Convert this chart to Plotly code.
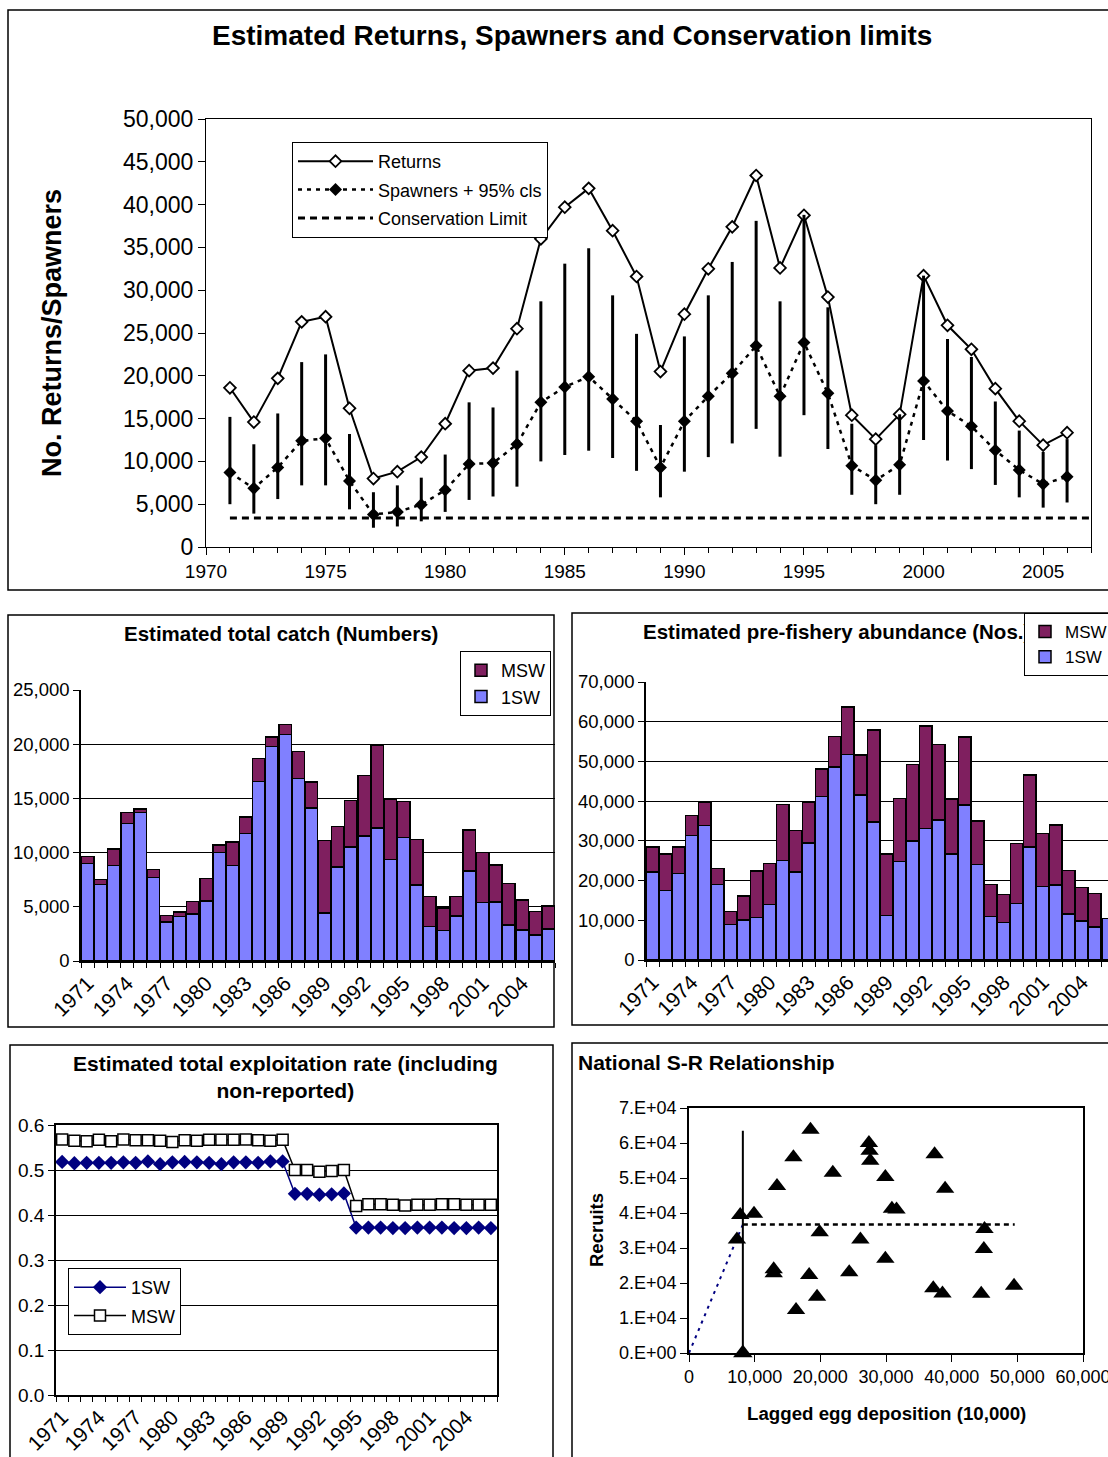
import plotly.graph_objects as go

W, H = 1108, 1457
def fx(px): return px / W
def fy(py): return 1 - py / H

FONT = "Liberation Sans, Arial, sans-serif"

# ---------------- data ----------------
years = list(range(1971, 2007))

returns = [18600, 14600, 19700, 26300, 26900, 16200, 8000, 8800, 10500, 14400, 20600, 20900,
           25500, 36000, 39700, 41900, 36950, 31600, 20500, 27200, 32500, 37400, 43400, 32600,
           38750, 29200, 15400, 12600, 15500, 31700, 25900, 23100, 18500, 14700, 11900, 13350]
spawners = [8700, 6850, 9300, 12400, 12700, 7700, 3800, 4100, 4950, 6650, 9700, 9800,
            12000, 16900, 18700, 19900, 17300, 14700, 9300, 14700, 17600, 20300, 23500, 17600,
            23900, 17950, 9500, 7800, 9600, 19400, 15900, 14100, 11300, 9000, 7350, 8200]
spawners_upper = [15200, 12000, 15600, 21600, 22500, 13200, 6400, 7200, 8100, 10800, 16900, 16300,
                  20600, 28700, 33100, 34900, 29400, 24900, 14250, 24600, 29400, 33300, 38100, 28700,
                  38800, 28000, 14400, 11900, 15500, 31700, 24300, 22200, 17000, 13600, 11100, 12600]
spawners_lower = [5000, 3900, 5600, 7200, 7200, 4400, 2250, 2400, 3000, 4100, 5500, 5900,
                  7050, 10000, 10750, 11250, 10400, 8900, 5800, 8800, 10500, 12100, 13800, 10550,
                  15400, 11450, 6100, 5000, 6100, 12500, 10100, 9100, 7250, 5800, 4600, 5200]
conservation_limit = 3400
cl_year_span = [1971, 2007]

catch_1sw = [9000, 7070, 8800, 12700, 13700, 7720, 3600, 4090, 4340, 5530, 10020, 8800,
             11780, 16570, 19770, 20900, 16820, 14100, 4430, 8670, 10500, 11530, 12270, 9380,
             11400, 7000, 3170, 2800, 4150, 8300, 5400, 5450, 3320, 2860, 2400, 2950]
catch_msw = [620, 460, 1530, 1000, 300, 710, 580, 430, 1130, 2070, 680, 2200,
             1500, 2100, 890, 900, 2520, 2400, 6670, 3730, 4320, 5570, 7630, 5520,
             3300, 4200, 2760, 2100, 1780, 3800, 4600, 3410, 3810, 2770, 2150, 2120]

pfa_1sw = [22200, 17500, 21800, 31400, 33900, 19000, 9000, 10100, 10700, 14000, 25000, 22100,
           29500, 41200, 48600, 51700, 41600, 34800, 11200, 24800, 30000, 33100, 35250, 26700,
           39000, 24000, 11000, 9500, 14200, 28400, 18550, 18900, 11550, 9800, 8300, 10400]
pfa_msw = [6200, 9200, 6600, 4950, 5700, 4000, 3200, 6000, 11650, 10300, 14200, 10500,
           10300, 6900, 7650, 12000, 10000, 23100, 15500, 15850, 19250, 25850, 19050, 13800,
           17200, 11000, 8000, 6950, 15100, 18150, 13250, 15100, 10950, 8500, 8500, 0]

expl_1sw = [0.518, 0.515, 0.516, 0.516, 0.516, 0.517, 0.516, 0.519, 0.513, 0.517, 0.518, 0.517,
            0.516, 0.513, 0.517, 0.517, 0.516, 0.519, 0.519, 0.447, 0.447, 0.445, 0.446, 0.448,
            0.372, 0.372, 0.372, 0.371, 0.371, 0.372, 0.372, 0.372, 0.371, 0.371, 0.372, 0.371]
expl_msw = [0.568, 0.565, 0.564, 0.567, 0.564, 0.568, 0.566, 0.566, 0.565, 0.562, 0.566, 0.565,
            0.567, 0.567, 0.567, 0.568, 0.566, 0.565, 0.567, 0.500, 0.500, 0.496, 0.498, 0.500,
            0.420, 0.424, 0.424, 0.423, 0.421, 0.423, 0.423, 0.424, 0.424, 0.423, 0.423, 0.423]

sr_eggs = [7800, 9900, 7300, 18500, 15900, 13400, 21900, 27400, 27500, 27600, 29900, 30900,
           31600, 37400, 39000, 19900, 26100, 12900, 12900, 18300, 24400, 29900, 19500, 16300,
           37200, 38600, 44500, 49500, 44900, 45000]
sr_recruits = [39400, 39800, 32400, 63800, 55900, 47700, 51500, 60000, 57800, 54900, 50300, 41200,
               41000, 56800, 46900, 34500, 32400, 23900, 22800, 22300, 23100, 26900, 16100, 12300,
               18500, 17000, 16900, 19200, 29700, 35400]
sr_cl_eggs = 8200
sr_cl_line_top = 63500
sr_plateau_recruits = 36700
sr_plateau_end_eggs = 49600
sr_origin = [0, 0]

sr_ytick_vals = [0, 10000, 20000, 30000, 40000, 50000, 60000, 70000]
sr_ytick_text = ["0.E+00", "1.E+04", "2.E+04", "3.E+04", "4.E+04", "5.E+04", "6.E+04", "7.E+04"]

label_years = years[::3]
boundaries = [y - 0.5 for y in years] + [years[-1] + 0.5]

C1SW = "#8080FF"
CMSW = "#7F1F5F"

fig = go.Figure()

# ---------------- panel 1: returns / spawners ----------------
fig.add_trace(go.Scatter(x=years, y=returns, mode="lines+markers", name="Returns",
                         line=dict(color="black", width=2),
                         marker=dict(symbol="diamond", size=9, color="white",
                                     line=dict(color="black", width=1.8)),
                         xaxis="x", yaxis="y", legend="legend", legendgroup="a"))
fig.add_trace(go.Scatter(x=years, y=spawners, mode="lines+markers", name="Spawners + 95% cls",
                         line=dict(color="black", width=2.5, dash="4px,5px"),
                         marker=dict(symbol="diamond", size=10, color="black"),
                         error_y=dict(type="data", symmetric=False,
                                      array=[u - s for u, s in zip(spawners_upper, spawners)],
                                      arrayminus=[s - l for s, l in zip(spawners, spawners_lower)],
                                      width=0, thickness=3, color="black"),
                         xaxis="x", yaxis="y", legend="legend", legendgroup="b"))
fig.add_trace(go.Scatter(x=cl_year_span, y=[conservation_limit] * len(cl_year_span), mode="lines",
                         name="Conservation Limit",
                         line=dict(color="black", width=3, dash="7px,5px"),
                         xaxis="x", yaxis="y", legend="legend", legendgroup="c"))

# ---------------- panel 2: catch ----------------
fig.add_trace(go.Bar(x=years, y=catch_1sw, name="1SW", marker=dict(color=C1SW, line=dict(color="black", width=1.5)),
                     xaxis="x2", yaxis="y2", legend="legend2"))
fig.add_trace(go.Bar(x=years, y=catch_msw, name="MSW", marker=dict(color=CMSW, line=dict(color="black", width=1.5)),
                     xaxis="x2", yaxis="y2", legend="legend2"))

# ---------------- panel 3: pre-fishery abundance ----------------
fig.add_trace(go.Bar(x=years, y=pfa_1sw, name="1SW", marker=dict(color=C1SW, line=dict(color="black", width=1.5)),
                     xaxis="x3", yaxis="y3", legend="legend3"))
fig.add_trace(go.Bar(x=years, y=pfa_msw, name="MSW", marker=dict(color=CMSW, line=dict(color="black", width=1.5)),
                     xaxis="x3", yaxis="y3", legend="legend3"))

# ---------------- panel 4: exploitation ----------------
fig.add_trace(go.Scatter(x=years, y=expl_1sw, mode="lines+markers", name="1SW",
                         line=dict(color="#000080", width=1.5),
                         marker=dict(symbol="diamond", size=11, color="#000080"),
                         xaxis="x4", yaxis="y4", legend="legend4", legendgroup="e1"))
fig.add_trace(go.Scatter(x=years, y=expl_msw, mode="lines+markers", name="MSW",
                         line=dict(color="black", width=1.5),
                         marker=dict(symbol="square", size=11, color="white", line=dict(color="black", width=1.5)),
                         xaxis="x4", yaxis="y4", legend="legend4", legendgroup="e2"))

# ---------------- panel 5: S-R ----------------
fig.add_trace(go.Scatter(x=[sr_origin[0], sr_cl_eggs], y=[sr_origin[1], sr_plateau_recruits], mode="lines",
                         line=dict(color="#000080", width=2, dash="3px,5px"),
                         xaxis="x5", yaxis="y5", showlegend=False))
fig.add_trace(go.Scatter(x=[sr_cl_eggs, sr_plateau_end_eggs], y=[sr_plateau_recruits, sr_plateau_recruits], mode="lines",
                         line=dict(color="black", width=2.5, dash="5px,4px"),
                         xaxis="x5", yaxis="y5", showlegend=False))
fig.add_trace(go.Scatter(x=[sr_cl_eggs, sr_cl_eggs], y=[0, sr_cl_line_top], mode="lines",
                         line=dict(color="black", width=2),
                         xaxis="x5", yaxis="y5", showlegend=False))
fig.add_trace(go.Scatter(x=[sr_cl_eggs], y=[0], mode="markers",
                         marker=dict(symbol="triangle-up", size=17, color="black"),
                         cliponaxis=False,
                         xaxis="x5", yaxis="y5", showlegend=False))
fig.add_trace(go.Scatter(x=sr_eggs, y=sr_recruits, mode="markers",
                         marker=dict(symbol="triangle-up", size=16, color="black"),
                         xaxis="x5", yaxis="y5", showlegend=False))

tickfont = dict(family=FONT, size=18.5, color="black")
rotfont = dict(family=FONT, size=21, color="black")

def bar_xaxis(domain, rng):
    return dict(domain=domain, range=rng, tickmode="array", tickvals=label_years,
                ticktext=[str(y) for y in label_years], tickangle=-45, ticks="",
                tickfont=rotfont, showline=True, linecolor="black", linewidth=1.5,
                showgrid=False, zeroline=False, ticklabeloverflow="allow",
                minor=dict(tickmode="array", tickvals=boundaries, ticks="outside",
                           ticklen=5, tickcolor="black", tickwidth=1, showgrid=False))

fig.update_layout(
    width=W, height=H, autosize=False,
    margin=dict(l=0, r=0, t=0, b=0, autoexpand=False),
    paper_bgcolor="white", plot_bgcolor="white",
    font=dict(family=FONT, color="black"),
    barmode="stack", bargap=0.04,
    xaxis=dict(domain=[fx(206), fx(1091)], range=[1970, 2007], tickmode="linear", tick0=1970, dtick=5,
               ticks="outside", ticklen=7, tickcolor="black",
               tickfont=dict(family=FONT, size=19, color="black"),
               showline=True, linecolor="black", linewidth=1, mirror=True,
               showgrid=False, zeroline=False, anchor="y",
               minor=dict(dtick=1, ticks="outside", ticklen=5, tickcolor="black", showgrid=False)),
    yaxis=dict(domain=[fy(547), fy(119)], range=[0, 50000], dtick=5000, tickformat=",d",
               ticks="outside", ticklen=7, tickcolor="black",
               tickfont=dict(family=FONT, size=23, color="black"),
               showline=True, linecolor="black", linewidth=1, mirror=True,
               showgrid=False, zeroline=True, zerolinecolor="black", zerolinewidth=2.5, anchor="x"),
    xaxis2=dict(bar_xaxis([fx(81), fx(555)], [1970.5, 2006.5]), anchor="y2"),
    yaxis2=dict(domain=[fy(961), fy(690)], range=[0, 25000], dtick=5000, tickformat=",d",
                ticks="outside", ticklen=6, tickcolor="black", tickfont=tickfont,
                showline=True, linecolor="black", linewidth=1.5,
                showgrid=True, gridcolor="black", gridwidth=1, zeroline=False, anchor="x2"),
    xaxis3=dict(bar_xaxis([fx(646), 1.0], [1970.5, 2006.0]), anchor="y3"),
    yaxis3=dict(domain=[fy(960), fy(682)], range=[0, 70000], dtick=10000, tickformat=",d",
                ticks="outside", ticklen=6, tickcolor="black", tickfont=tickfont,
                showline=True, linecolor="black", linewidth=1.5,
                showgrid=True, gridcolor="black", gridwidth=1, zeroline=False, anchor="x3"),
    xaxis4=dict(bar_xaxis([fx(56), fx(497)], [1970.5, 2006.5]), anchor="y4", mirror=True),
    yaxis4=dict(domain=[fy(1395), fy(1125)], range=[0, 0.6], dtick=0.1, tickformat=".1f",
                ticks="outside", ticklen=6, tickcolor="black", tickfont=dict(family=FONT, size=19, color="black"),
                showline=True, linecolor="black", linewidth=1.5, mirror=True,
                showgrid=True, gridcolor="black", gridwidth=1, zeroline=False, anchor="x4"),
    xaxis5=dict(domain=[fx(689), fx(1083)], range=[0, 60000], dtick=10000, tickformat=",d",
                ticks="outside", ticklen=7, tickcolor="black", tickfont=dict(family=FONT, size=18, color="black"),
                showline=True, linecolor="black", linewidth=1.5, mirror=True, ticklabeloverflow="allow",
                showgrid=False, zeroline=False, anchor="y5"),
    yaxis5=dict(domain=[fy(1353), fy(1108)], range=[0, 70000], tickmode="array",
                tickvals=sr_ytick_vals, ticktext=sr_ytick_text,
                ticks="outside", ticklen=7, tickcolor="black", tickfont=dict(family=FONT, size=18, color="black"),
                showline=True, linecolor="black", linewidth=1.5, mirror=True,
                showgrid=False, zeroline=True, zerolinecolor="black", zerolinewidth=3, anchor="x5"),
    legend=dict(x=fx(292), y=fy(142), xanchor="left", yanchor="top", bgcolor="white",
                bordercolor="black", borderwidth=1, font=dict(family=FONT, size=18, color="black"),
                tracegroupgap=2, itemwidth=75),
    legend2=dict(x=fx(460), y=fy(651), xanchor="left", yanchor="top", bgcolor="white",
                 bordercolor="black", borderwidth=1, traceorder="reversed",
                 font=dict(family=FONT, size=18, color="black"), itemwidth=30),
    legend3=dict(x=fx(1024), y=fy(613), xanchor="left", yanchor="top", bgcolor="white",
                 bordercolor="black", borderwidth=1, traceorder="reversed",
                 font=dict(family=FONT, size=17, color="black"), itemwidth=30),
    legend4=dict(x=fx(68), y=fy(1268), xanchor="left", yanchor="top", bgcolor="white",
                 bordercolor="black", borderwidth=1, tracegroupgap=2,
                 font=dict(family=FONT, size=18, color="black"), itemwidth=52),
)

def ann(text, x, y, size=17, xanchor="center", angle=0, **kw):
    d = dict(text=text, x=fx(x), y=fy(y), xref="paper", yref="paper", showarrow=False,
             xanchor=xanchor, yanchor="middle", textangle=angle,
             font=dict(family=FONT, size=size, color="black"))
    d.update(kw)
    return d

fig.update_layout(annotations=[
    ann("<b>Estimated Returns, Spawners and Conservation limits</b>", 572, 36, size=28),
    ann("<b>No. Returns/Spawners</b>", 52, 333, size=27, angle=-90),
    ann("<b>Estimated total catch (Numbers)</b>", 281, 633, size=20.5),
    ann("<b>Estimated pre-fishery abundance (Nos.)</b>", 641, 632, size=20.5, xanchor="left",
        width=381, align="left"),
    ann("<b>Estimated total exploitation rate (including<br>non-reported)</b>", 285, 1077, size=21),
    ann("<b>National S-R Relationship</b>", 576, 1062, size=21, xanchor="left"),
    ann("<b>Recruits</b>", 596, 1230, size=18.5, angle=-90),
    ann("<b>Lagged egg deposition (10,000)</b>", 886, 1413, size=18.7),
])

def panel(x0, y0, x1, y1):
    return dict(type="rect", xref="paper", yref="paper", x0=fx(x0), x1=fx(x1), y0=fy(y1), y1=fy(y0),
                line=dict(color="black", width=1.5), fillcolor="rgba(0,0,0,0)", layer="below")

fig.update_layout(shapes=[
    panel(8, 10, 1130, 590),
    panel(8, 615, 554, 1027),
    panel(572, 613, 1130, 1025),
    panel(10, 1045, 553, 1480),
    panel(572, 1043, 1130, 1480),
])

fig.write_html("out.html")
